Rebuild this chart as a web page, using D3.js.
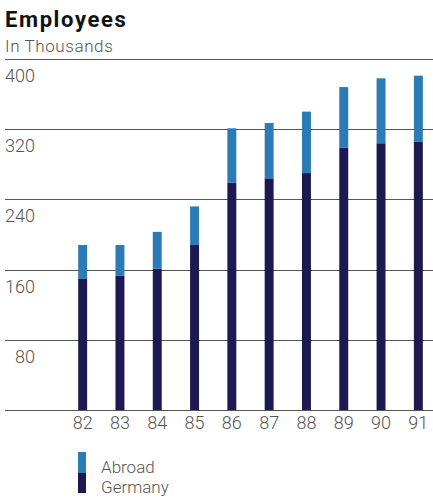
<!DOCTYPE html>
<html>
<head>
<meta charset="utf-8">
<script src="https://cdn.jsdelivr.net/npm/d3@7"></script>
<style>
  html, body { margin: 0; padding: 0; background: #fff; }
  svg { display: block; }
</style>
</head>
<body>
<svg id="chart" width="433" height="503"></svg>
<script>
// Employees by year, in thousands
const years = ["82", "83", "84", "85", "86", "87", "88", "89", "90", "91"];
const germany = [150, 153, 161, 188, 259, 264, 270, 299, 304, 306];
const abroad = [38, 35, 42, 44, 62, 63, 70, 69, 74, 75];
const yTicks = [0, 80, 160, 240, 320, 400];
const seriesNames = ["Abroad", "Germany"];
const seriesColors = ["#2b7bb4", "#1c1a50"];

const svg = d3.select("#chart");
const font = "Roboto, 'Noto Sans', sans-serif";

const plotLeft = 5, plotRight = 433;
const y = d3.scaleLinear().domain([0, 400]).range([410, 59]);
const x = d3.scaleBand().domain(years).range([64, 437]).paddingInner(0.76).paddingOuter(0.38);

// Title
svg.append("text")
  .attr("x", 5).attr("y", 27)
  .attr("font-family", font).attr("font-weight", 700)
  .attr("font-size", 22).attr("letter-spacing", 1.6).attr("fill", "#111")
  .text("Employees");
svg.append("text")
  .attr("x", 5).attr("y", 52)
  .attr("font-family", font).attr("font-weight", 300)
  .attr("font-size", 17).attr("letter-spacing", 0.6).attr("fill", "#555")
  .text("In Thousands");

// Gridlines
svg.append("g").selectAll("line").data(yTicks).join("line")
  .attr("x1", plotLeft).attr("x2", plotRight)
  .attr("y1", d => Math.round(y(d)) + 0.5).attr("y2", d => Math.round(y(d)) + 0.5)
  .attr("stroke", "#555").attr("stroke-width", 1.2);

// Tick labels, sitting just below each gridline
svg.append("g").selectAll("text").data(yTicks.filter(d => d > 0)).join("text")
  .attr("x", d => d < 100 ? 15 : 5)
  .attr("y", d => y(d) + 23)
  .attr("font-family", font).attr("font-weight", 300)
  .attr("font-size", 18).attr("fill", "#555")
  .text(d => d);

// Stacked bars
const rows = years.map((yr, i) => ({ year: yr, Germany: germany[i], Abroad: abroad[i] }));
const stack = d3.stack().keys(["Germany", "Abroad"])(rows);
const color = d3.scaleOrdinal().domain(seriesNames).range(seriesColors);

svg.append("g").selectAll("g").data(stack).join("g")
  .attr("fill", d => color(d.key))
  .selectAll("rect").data(d => d).join("rect")
  .attr("x", d => x(d.data.year))
  .attr("width", x.bandwidth())
  .attr("y", d => y(d[1]))
  .attr("height", d => y(d[0]) - y(d[1]));

// Year axis
const xAxis = svg.append("g")
  .attr("transform", "translate(0,414)")
  .call(d3.axisBottom(x).tickSize(0).tickPadding(2));
xAxis.select(".domain").remove();
xAxis.selectAll("text")
  .attr("font-family", font).attr("font-weight", 300)
  .attr("font-size", 18).attr("fill", "#555");

// Legend
const legend = svg.append("g");
legend.append("rect").attr("x", 78).attr("y", 452).attr("width", 8).attr("height", 21).attr("fill", color("Abroad"));
legend.append("rect").attr("x", 78).attr("y", 473).attr("width", 8).attr("height", 20).attr("fill", color("Germany"));
legend.selectAll("text").data(seriesNames).join("text")
  .attr("x", 101).attr("y", (d, i) => 473 + i * 20)
  .attr("font-family", font).attr("font-weight", 300)
  .attr("font-size", 17).attr("fill", "#555")
  .text(d => d);
</script>
</body>
</html>
